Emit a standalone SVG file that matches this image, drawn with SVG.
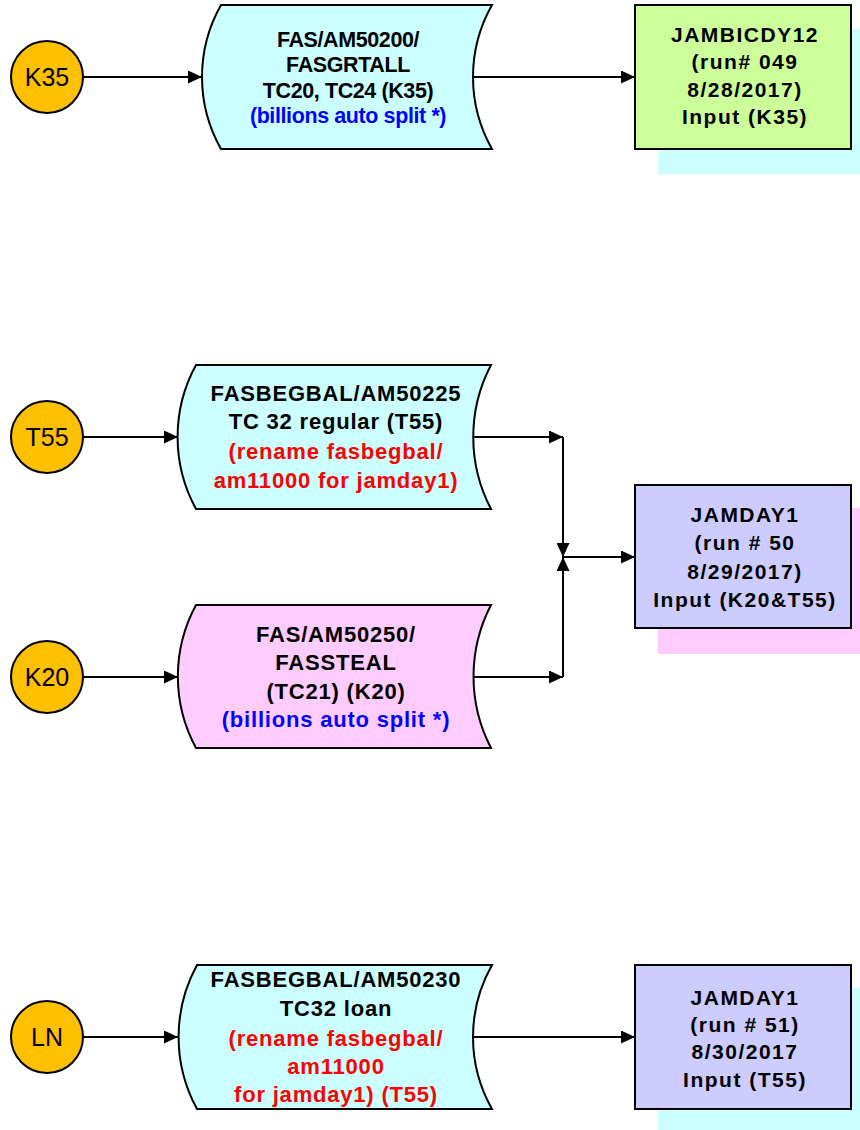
<svg xmlns="http://www.w3.org/2000/svg" width="860" height="1130" viewBox="0 0 860 1130">
<defs>
<style>
.circ{fill:#FFC000;stroke:#000;stroke-width:2}
.ct{font-family:"Liberation Sans",Arial,sans-serif;font-size:25px;fill:#000;text-anchor:middle}
.cyan{fill:#CCFFFF;stroke:#000;stroke-width:2}
.pink{fill:#FFCCFF;stroke:#000;stroke-width:2}
.green{fill:#CCFF99;stroke:#000;stroke-width:2}
.purple{fill:#CCCCFF;stroke:#000;stroke-width:2}
.shc{fill:#CCFFFF}
.shp{fill:#FFCCFF}
.t{font-family:"Liberation Sans",Arial,sans-serif;font-size:22px;font-weight:bold;fill:#000;text-anchor:middle;letter-spacing:0.8px}
.t1{font-family:"Liberation Sans",Arial,sans-serif;font-size:21.5px;font-weight:bold;fill:#000;text-anchor:middle;letter-spacing:-0.4px}
.tb{font-family:"Liberation Sans",Arial,sans-serif;font-size:21px;font-weight:bold;fill:#000;text-anchor:middle;letter-spacing:1.5px}
.blue{fill:#0000FF}
.red{fill:#FF0000}
.conn line{stroke:#000;stroke-width:2;marker-end:url(#arr)}
</style>
<marker id="arr" markerUnits="userSpaceOnUse" markerWidth="14" markerHeight="13" refX="14" refY="6.5" orient="auto">
<path d="M0,0 L14,6.5 L0,13 Z" fill="#000"/>
</marker>
</defs>
<rect width="860" height="1130" fill="#fff"/>

<g id="shadows">
<rect class="shc" x="658" y="29" width="216" height="145"/>
<rect class="shp" x="658" y="508" width="216" height="146"/>
<rect class="shc" x="658" y="988" width="216" height="144"/>
</g>

<g class="conn" id="connectors">
<line x1="83" y1="77" x2="202" y2="77"/>
<line x1="473" y1="77" x2="635" y2="77"/>
<line x1="83" y1="437" x2="178" y2="437"/>
<line x1="474" y1="437" x2="563" y2="437"/>
<line x1="563" y1="437" x2="563" y2="557"/>
<line x1="83" y1="677" x2="178" y2="677"/>
<line x1="474" y1="677" x2="563" y2="677"/>
<line x1="563" y1="677" x2="563" y2="557"/>
<line x1="563" y1="557" x2="635" y2="557"/>
<line x1="83" y1="1037" x2="178" y2="1037"/>
<line x1="473" y1="1037" x2="635" y2="1037"/>
</g>

<g id="K35">
<circle class="circ" cx="47" cy="77" r="36"/>
<text class="ct" x="47" y="86">K35</text>
</g>

<g id="FASGRTALL">
<path class="cyan" d="M221,5 H492 A146,146 0 0,0 492,149 H221 A146,146 0 0,1 221,5 Z"/>
<text class="t1" x="348" y="47">FAS/AM50200/</text>
<text class="t1" x="348" y="72">FASGRTALL</text>
<text class="t1" x="348" y="98">TC20, TC24 (K35)</text>
<text class="t1 blue" x="348" y="123">(billions auto split *)</text>
</g>

<g id="JAMBICDY12">
<rect class="green" x="635" y="5" width="216" height="144"/>
<text class="tb" x="745" y="42">JAMBICDY12</text>
<text class="tb" x="745" y="69">(run# 049</text>
<text class="tb" x="745" y="97">8/28/2017)</text>
<text class="tb" x="745" y="124">Input (K35)</text>
</g>

<g id="T55">
<circle class="circ" cx="47" cy="437" r="36"/>
<text class="ct" x="47" y="446">T55</text>
</g>

<g id="AM50225">
<path class="cyan" d="M196,365 H491 A155,155 0 0,0 491,509 H196 A150,150 0 0,1 196,365 Z"/>
<text class="t" x="336" y="401">FASBEGBAL/AM50225</text>
<text class="t" x="336" y="429">TC 32 regular (T55)</text>
<text class="t red" x="336" y="459">(rename fasbegbal/</text>
<text class="t red" x="336" y="488">am11000 for jamday1)</text>
</g>

<g id="K20">
<circle class="circ" cx="47" cy="677" r="36"/>
<text class="ct" x="47" y="686">K20</text>
</g>

<g id="AM50250">
<path class="pink" d="M196,605 H491 A155,155 0 0,0 491,748 H196 A150,150 0 0,1 196,605 Z"/>
<text class="t" x="336" y="642">FAS/AM50250/</text>
<text class="t" x="336" y="670">FASSTEAL</text>
<text class="t" x="336" y="699">(TC21) (K20)</text>
<text class="t blue" x="336" y="727">(billions auto split *)</text>
</g>

<g id="JAMDAY1_50">
<rect class="purple" x="635" y="485" width="216" height="143"/>
<text class="tb" x="745" y="522">JAMDAY1</text>
<text class="tb" x="745" y="550">(run # 50</text>
<text class="tb" x="745" y="579">8/29/2017)</text>
<text class="tb" x="745" y="607">Input (K20&amp;T55)</text>
</g>

<g id="LN">
<circle class="circ" cx="47" cy="1037" r="36"/>
<text class="ct" x="47" y="1046">LN</text>
</g>

<g id="AM50230">
<path class="cyan" d="M197,965 H492 A146,146 0 0,0 492,1109 H197 A150,150 0 0,1 197,965 Z"/>
<text class="t" x="336" y="987">FASBEGBAL/AM50230</text>
<text class="t" x="336" y="1016">TC32 loan</text>
<text class="t red" x="336" y="1046">(rename fasbegbal/</text>
<text class="t red" x="336" y="1074">am11000</text>
<text class="t red" x="336" y="1102">for jamday1) (T55)</text>
</g>

<g id="JAMDAY1_51">
<rect class="purple" x="635" y="965" width="216" height="144"/>
<text class="tb" x="745" y="1005">JAMDAY1</text>
<text class="tb" x="745" y="1032">(run # 51)</text>
<text class="tb" x="745" y="1059">8/30/2017</text>
<text class="tb" x="745" y="1087">Input (T55)</text>
</g>
</svg>
